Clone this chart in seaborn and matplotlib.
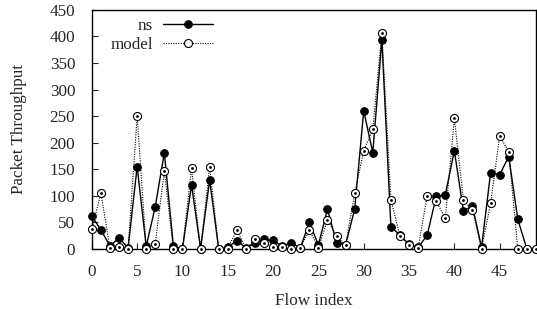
import matplotlib
matplotlib.use("Agg")
import matplotlib.pyplot as plt
import seaborn as sns
import pandas as pd

flow_index = list(range(50))
ns_values = [62, 36, 6, 21, 2, 155, 5, 80, 181, 5,
             0, 121, 1, 130, 0, 3, 16, 2, 11, 18,
             17, 5, 12, 2, 50, 8, 75, 12, 8, 75,
             260, 181, 394, 42, 26, 9, 3, 26, 99, 102,
             185, 72, 81, 3, 144, 140, 174, 56, 0, 0]
model_values = [37, 105, 2, 3, 0, 250, 0, 10, 147, 0,
                0, 152, 0, 155, 0, 1, 36, 0, 18, 12,
                4, 3, 0, 2, 36, 2, 55, 24, 7, 105,
                185, 225, 406, 93, 24, 8, 2, 100, 90, 58,
                246, 93, 73, 1, 86, 213, 183, 0, 0, 0]

df = pd.DataFrame({"flow": flow_index, "ns": ns_values, "model": model_values})

sns.set_style("ticks")
plt.rcParams["font.family"] = ["Liberation Serif", "DejaVu Serif"]

fig = plt.figure(figsize=(5.37, 3.09), dpi=100)
ax = fig.add_axes([0.171, 0.194, 0.827, 0.774])

sns.lineplot(data=df, x="flow", y="ns", ax=ax, color="black", lw=1.0,
             marker="o", markersize=5.5, markerfacecolor="black",
             markeredgecolor="black", label="ns", zorder=3, clip_on=False)
sns.lineplot(data=df, x="flow", y="model", ax=ax, color="black", lw=0.8,
             ls=(0, (1, 1.2)), marker="o", markersize=5.8,
             markerfacecolor="white", markeredgecolor="black",
             markeredgewidth=0.8, label="model", zorder=4, clip_on=False)
# small centre dot of the open markers
ax.plot(df["flow"], df["model"], ls="none", marker="o", markersize=1.0,
        color="black", zorder=5, clip_on=False)

ax.set_xlim(0, 49)
ax.set_ylim(0, 450)
ax.set_xticks(range(0, 50, 5))
ax.set_yticks(range(0, 451, 50))
ax.tick_params(direction="in", length=4, width=0.8, labelsize=12.3)
ax.tick_params(axis="x", pad=11)
ax.tick_params(axis="y", pad=12)
for s in ax.spines.values():
    s.set_linewidth(1.0)
    s.set_color("black")
ax.set_xlabel("Flow index", fontsize=12.3, labelpad=9)
ax.set_ylabel("Packet Throughput", fontsize=12.3, labelpad=16)

leg = ax.legend(loc="upper right", bbox_to_anchor=(0.2725, 0.965), frameon=False,
                fontsize=12.3, markerfirst=False, handlelength=2.9,
                handletextpad=0.6, labelspacing=0.15, borderaxespad=0,
                borderpad=0)
# right-align legend rows (text sits flush against the sample line)
for col in leg._legend_handle_box.get_children():
    col.align = "right"

fig.savefig("out.png", dpi=100)
